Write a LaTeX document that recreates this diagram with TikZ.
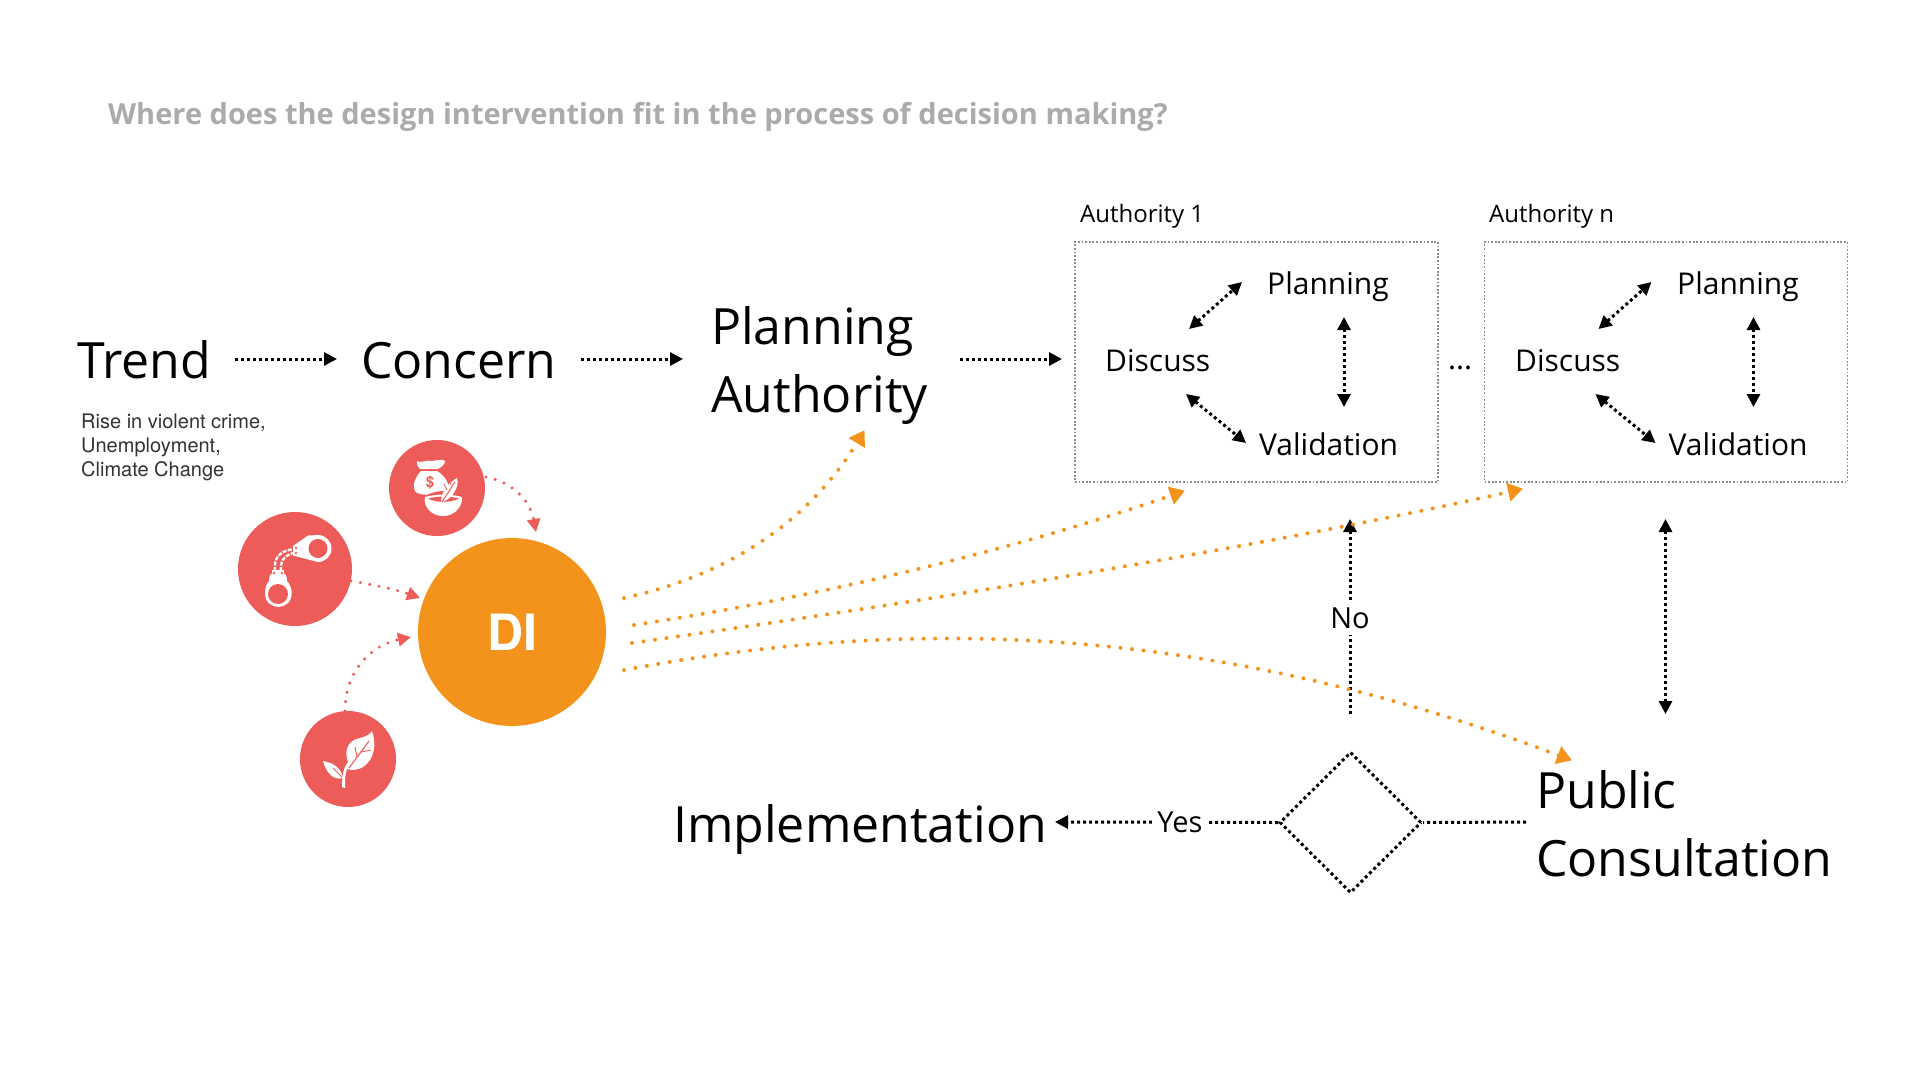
\documentclass[tikz,border=0pt]{standalone}
\usepackage{fontspec}
\setmainfont{Open Sans}
\newfontfamily\helv{TeX Gyre Heros}
\usetikzlibrary{arrows.meta,shapes.geometric}
\definecolor{dio}{HTML}{F3931B}
\definecolor{dired}{HTML}{EE5C5A}
\definecolor{tgray}{HTML}{ABABAB}
\tikzset{
  bigtxt/.style={anchor=base west,inner sep=0pt,font=\fontsize{50}{60}\selectfont,text=black},
  midtxt/.style={anchor=base west,inner sep=0pt,font=\fontsize{30}{36}\selectfont,text=black},
  smalltxt/.style={anchor=base west,inner sep=0pt,font=\fontsize{24}{30}\selectfont,text=black},
  risetxt/.style={anchor=base west,inner sep=0pt,text=black!80,font=\helv\fontsize{20}{24}\selectfont},
  flow/.style={draw=black,line width=3pt,dash pattern=on 3pt off 3pt},
  onehead/.style={flow,-{Triangle[length=13pt,width=13pt]}},
  twohead/.style={flow,{Triangle[length=13pt,width=13pt]}-{Triangle[length=13pt,width=13pt]}},
  orangeflow/.style={draw=dio,line width=4pt,line cap=round,dash pattern=on 0pt off 11.6pt,-{Triangle[length=15pt,width=18pt,line cap=butt,sep=-1pt]}},
  redflow/.style={draw=dired,line width=3.4pt,line cap=round,dash pattern=on 0pt off 9.5pt,-{Triangle[length=13pt,width=13pt,line cap=butt]}},
  authbox/.style={draw=black!45,line width=1.8pt,dash pattern=on 1.8pt off 1.8pt,minimum width=363pt,minimum height=240pt,inner sep=0pt},
  redcirc/.style={circle,fill=dired,inner sep=0pt},
}
\begin{document}
\begin{tikzpicture}[x=1pt,y=-1pt]
\useasboundingbox (0,0) rectangle (1920,1080);
\fill[white] (0,0) rectangle (1920,1080);
% title
\node[anchor=base west,inner sep=0pt,text=tgray,font=\fontsize{29}{36}\selectfont\bfseries] (title) at (108,124) {Where does the design intervention fit in the process of decision making?};
% main words
\node[bigtxt] (trend) at (77,378) {Trend};
\node[bigtxt] (concern) at (361,378) {Concern};
\node[bigtxt] (pa1) at (711,344) {Planning};
\node[bigtxt] (pa2) at (711,412) {Authority};
\node[bigtxt] (impl) at (673,842) {Implementation};
\node[bigtxt] (pc1) at (1536,808) {Public};
\node[bigtxt] (pc2) at (1536,876) {Consultation};
% rise
\node[risetxt] (r1) at (81,428) {Rise in violent crime,};
\node[risetxt] (r2) at (81,452) {Unemployment,};
\node[risetxt] (r3) at (81,476) {Climate Change};
% authority boxes
\node[authbox] (boxa) at (1256.5,362) {};
\node[authbox] (boxb) at (1666,362) {};
\node[smalltxt] (la) at (1080,222) {Authority 1};
\node[smalltxt] (lb) at (1489,222) {Authority n};
\node[midtxt] (da) at (1105,371) {Discuss};
\node[midtxt] (pla) at (1267,294) {Planning};
\node[midtxt] (va) at (1259,455) {Validation};
\node[midtxt] (db) at (1515,371) {Discuss};
\node[midtxt] (plb) at (1677,294) {Planning};
\node[midtxt] (vb) at (1668.5,455) {Validation};
\node[midtxt] (dots) at (1448,369) {...};
% coordinates for connector ends
\coordinate (t1) at (235,359); \coordinate (t2) at (337,359);
\coordinate (c1) at (581,359); \coordinate (c2) at (683,359);
\coordinate (p1) at (960,359); \coordinate (p2) at (1062,359);
\foreach \nm/\dx in {a/0,b/409.5}{
  \coordinate (dp1\nm) at ({1189+\dx},329); \coordinate (dp2\nm) at ({1242+\dx},282);
  \coordinate (pv1\nm) at ({1344+\dx},317); \coordinate (pv2\nm) at ({1344+\dx},407);
  \coordinate (dv1\nm) at ({1186+\dx},394); \coordinate (dv2\nm) at ({1246+\dx},443);
}
\foreach \nm in {a,b}{
  \draw[twohead] (dp1\nm) -- (dp2\nm);
  \draw[twohead] (pv1\nm) -- (pv2\nm);
  \draw[twohead] (dv1\nm) -- (dv2\nm);
}
\draw[onehead] (t1) -- (t2);
\draw[onehead] (c1) -- (c2);
\draw[onehead] (p1) -- (p2);
% decision
\node[diamond,draw=black,line width=3pt,dash pattern=on 3pt off 3pt,aspect=1,minimum width=142pt,minimum height=141pt,inner sep=0pt] (dec) at (1350.5,822.5) {};
\coordinate (pcend) at (1526,822);
\coordinate (implend) at (1055,822);
\coordinate (noend) at (1350,519); \coordinate (nostart) at (1350,714);
\coordinate (pub1) at (1665.5,519); \coordinate (pub2) at (1665.5,714);
\draw[flow] (pcend) -- (dec.east);
\draw[onehead] (dec.west) -- node[pos=0.44,fill=white,inner sep=5pt,font=\fontsize{29}{34}\selectfont] (yes) {Yes} (implend);
\draw[onehead] (nostart) -- node[pos=0.49,fill=white,inner sep=6pt,font=\fontsize{29}{34}\selectfont] (no) {No} (noend);
\draw[twohead] (pub1) -- (pub2);
% circles
\node[circle,fill=dio,inner sep=0pt,minimum size=188pt,text=white,font=\helv\fontsize{50}{60}\selectfont\bfseries] (di) at (512,632) {DI};
\node[redcirc,minimum size=96pt] (money) at (437,488) {};
\node[redcirc,minimum size=114pt] (cuffs) at (295,569) {};
\node[redcirc,minimum size=96pt] (leaf) at (348,759) {};
% red connectors
\coordinate (ra1) at (486,477); \coordinate (ra2) at (536,532);
\coordinate (rb1) at (351,581); \coordinate (rb2) at (420,598);
\coordinate (rc1) at (345,711); \coordinate (rc2) at (411,637);
\draw[redflow] (ra1) .. controls (512,482) and (530,500) .. (ra2);
\draw[redflow] (rb1) .. controls (375,585) and (398,590) .. (rb2);
\draw[redflow] (rc1) .. controls (345,670) and (372,645) .. (rc2);
% orange connectors
\coordinate (oa1) at (624,598); \coordinate (oa2) at (864,431);
\coordinate (ob1) at (634,625); \coordinate (ob2) at (1184,491);
\coordinate (oc1) at (632,643); \coordinate (oc2) at (1522,489);
\coordinate (od1) at (624,670); \coordinate (od2) at (1571,760);
\draw[orangeflow] (oa1) .. controls (730,575) and (810,520) .. (oa2);
\draw[orangeflow] (ob1) .. controls (800,600) and (1000,555) .. (ob2);
\draw[orangeflow] (oc1) .. controls (900,605) and (1250,550) .. (oc2);
\draw[orangeflow] (od1) .. controls (900,618) and (1200,620) .. (od2);
% handcuffs icon
\fill[white] (293,546) -- (308,535.5) -- (318,535) arc[start angle=90,end angle=-90,radius=13.5pt] -- (293,555.5) -- cycle;
\fill[dired] (318,548.5) circle[radius=9.5pt];
\fill[white] (278,572) .. controls (270,572) and (269,576) .. (269,581) .. controls (264,586) and (263,600) .. (270,604) .. controls (275,608) and (283,608) .. (288,603) .. controls (294,597) and (292,586) .. (287,581) .. controls (287,576) and (286,572) .. (278,572) -- cycle;
\fill[dired] (278,594) circle[radius=10pt];
\fill[white] (272,570) rectangle (284,573);
\fill[dired] (274,573) circle[radius=1.4pt] (282,573) circle[radius=1.4pt];
\draw[white,line width=2.4pt,dash pattern=on 4pt off 1.4pt] (275,571) .. controls (274,558) and (278,552) .. (293,549);
\draw[white,line width=2.4pt,dash pattern=on 4pt off 1.4pt] (281,571) .. controls (280,561) and (284,556) .. (293,553);
\fill[dired] (296,548) circle[radius=1.3pt] (296,553) circle[radius=1.3pt];
% money bag and bowl icon
\fill[white] (417,461) .. controls (420,464) and (428,459) .. (432,461) .. controls (437,460) and (444,459) .. (445,461) .. controls (445,465) and (441,467) .. (438,469) -- (420,469) .. controls (418,467) and (416,464) .. (417,461) -- cycle;
\fill[white] (421,471) -- (437,471) .. controls (446,476) and (450,486) .. (449,492) -- (438,497) -- (436,495) .. controls (428,495) and (417,495) .. (415,491) .. controls (412,484) and (416,476) .. (421,471) -- cycle;
\node[inner sep=0pt,text=dired,font=\helv\fontsize{15}{15}\selectfont\bfseries] (dollar) at (430,483) {\$};
\fill[dired] (425,496) .. controls (435,490) and (450,489) .. (466,494) -- (466,500) -- (425,500) -- cycle;
\fill[white] (425,497) .. controls (435,494) and (452,494) .. (462,497) .. controls (463,506) and (455,516) .. (443,516) .. controls (431,516) and (423,506) .. (425,497) -- cycle;
\fill[dired] (428,498.5) .. controls (437,496) and (450,496) .. (459,498.5) .. controls (450,503) and (437,503) .. (428,498.5) -- cycle;
\fill[white] (441,502) .. controls (441,492) and (448,483) .. (457,478) .. controls (460,487) and (452,498) .. (443,502) -- cycle;
\draw[dired,line width=1pt] (442,502) -- (455,482);
\draw[dired,line width=.8pt] (447,490) -- (444,484);
\draw[dired,line width=.8pt] (451,485) -- (449,480);
% leaf icon
\fill[white] (342,787) .. controls (342,777) and (343,768) .. (348,762) .. controls (343,748) and (350,740) .. (360,738) .. controls (368,736) and (371,733) .. (372,731) .. controls (377,745) and (374,760) .. (363,767) .. controls (356,771) and (350,770) .. (347,769) .. controls (345,775) and (345,780) .. (345,788) -- cycle;
\fill[white] (343,778) .. controls (341,768) and (334,763) .. (323,761) .. controls (326,772) and (333,781) .. (343,778) -- cycle;
\draw[dired,line width=1.1pt] (349,768) -- (369,741);
\draw[dired,line width=.9pt] (357,757) -- (355,747);
\draw[dired,line width=.9pt] (361,752) -- (371,750);
\draw[dired,line width=.9pt] (333,768) -- (342,777);
\end{tikzpicture}
\end{document}
